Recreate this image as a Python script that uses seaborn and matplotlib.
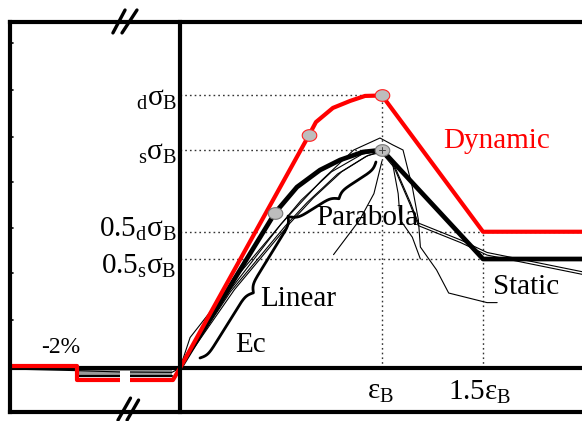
import numpy as np
import matplotlib
matplotlib.use("Agg")
import matplotlib.pyplot as plt
from matplotlib.path import Path
from matplotlib.patches import Rectangle
import seaborn as sns

# ---------------- data (x: strain / eps_B, y: stress / static sigma_B) ----------------
static_x = [0.0, 0.47, 0.579, 0.693, 0.792, 0.906, 1.0, 1.5, 2.05]
static_y = [0.0, 0.711, 0.830, 0.908, 0.954, 0.991, 1.0, 0.5, 0.5]

dyn_x = [-0.248, -0.035, 0.0, 0.639, 0.673, 0.757, 0.842, 0.916, 1.0, 1.5, 2.05]
dyn_y = [-0.055, -0.055, 0.0, 1.069, 1.128, 1.193, 1.225, 1.248, 1.25, 0.625, 0.625]

dyn_neg_x = [-0.832, -0.51, -0.51, -0.297]
dyn_neg_y = [0.008, 0.008, -0.055, -0.055]

static_pts_x = [0.47, 1.0]
static_pts_y = [0.711, 1.0]
dyn_pts_x = [0.639, 1.0]
dyn_pts_y = [1.069, 1.25]

# experimental (thin) curves
expA_x = [0.0, 0.25, 0.50, 0.60, 0.75, 0.90, 1.0]
expA_y = [0.0, 0.36, 0.66, 0.77, 0.90, 0.98, 1.0]
expB_x = [0.0, 0.25, 0.52, 0.63, 0.78, 0.92, 0.99]
expB_y = [0.0, 0.35, 0.65, 0.76, 0.89, 0.97, 0.995]
expB2_x = [0.0, 0.27, 0.54, 0.66, 0.80, 0.93, 1.0]
expB2_y = [0.0, 0.36, 0.66, 0.78, 0.90, 0.975, 0.99]
expC_x = [0.0, 0.05, 0.16, 0.30, 0.50, 0.70, 0.86, 0.99, 1.054, 1.104, 1.15, 1.18,
          1.19, 1.27, 1.33, 1.52, 1.57]
expC_y = [0.0, 0.14, 0.27, 0.44, 0.66, 0.86, 1.0, 1.055, 1.023, 1.0, 0.83, 0.68,
          0.555, 0.45, 0.344, 0.30, 0.30]
expD2_x = [1.0, 1.06, 1.14, 1.18, 1.39, 1.52, 2.0]
expD2_y = [0.99, 0.93, 0.76, 0.665, 0.587, 0.53, 0.44]
expD2b_y = [0.985, 0.92, 0.748, 0.653, 0.575, 0.518, 0.428]
expD3_x = [1.0, 0.96, 0.89, 0.76]
expD3_y = [0.95, 0.80, 0.68, 0.52]
expD4_x = [1.0, 1.05, 1.08, 1.09, 1.15, 1.19]
expD4_y = [1.0, 0.95, 0.80, 0.68, 0.60, 0.50]

neg_thin_x = [-0.832, -0.51, -0.30, -0.04, 0.0]
neg_thin_y = [-0.005, -0.012, -0.018, -0.02, 0.0]
neg_band_x = [-0.51, -0.04]
neg_band_top = [-0.006, -0.006]
neg_band_bot = [-0.035, -0.035]

# guide levels
h_levels = [1.25, 1.0, 0.625, 0.5]
h_ends = [1.0, 1.0, 2.05, 1.5]
v_levels = [1.0, 1.5]
v_tops = [1.25, 0.625]

y_labels = [r"${}_{\mathrm{d}}\sigma_{\mathrm{B}}$", r"${}_{\mathrm{s}}\sigma_{\mathrm{B}}$",
            r"$0.5_{\mathrm{d}}\sigma_{\mathrm{B}}$", r"$0.5_{\mathrm{s}}\sigma_{\mathrm{B}}$"]
y_label_pos = [1.234, 0.986, 0.635, 0.466]
x_labels = [r"$\varepsilon_{\mathrm{B}}$", r"$1.5\varepsilon_{\mathrm{B}}$"]
x_label_pos = [0.99, 1.485]
left_ticks = [1.491, 1.275, 1.060, 0.853, 0.642, 0.436, 0.220]

# ---------------- style ----------------
sns.set_theme(style="white")
plt.rcParams["font.family"] = ["Liberation Serif", "DejaVu Serif"]
plt.rcParams["text.color"] = "black"
plt.rcParams["mathtext.fontset"] = "custom"
plt.rcParams["mathtext.rm"] = "Liberation Serif"
plt.rcParams["mathtext.it"] = "Liberation Serif"
plt.rcParams["mathtext.bf"] = "Liberation Serif:bold"

fig = plt.figure(figsize=(5.82, 4.21), dpi=100)
ax = fig.add_axes([0, 0, 1, 1])
XMIN, XMAX, YMIN, YMAX = -0.891, 1.990, -0.243, 1.688
ax.set_xlim(XMIN, XMAX)
ax.set_ylim(YMIN, YMAX)
ax.axis("off")

FL, FR, FT, FB = -0.842, 2.1, 1.587, -0.202
frame_kw = dict(color="black", lw=3.0, solid_capstyle="projecting", zorder=6)
ax.plot([FL, FR], [FT, FT], **frame_kw)
ax.plot([FL, FR], [FB, FB], **frame_kw)
ax.plot([FL, FL], [FB, FT], **frame_kw)
ax.plot([0, 0], [FB, FT], **frame_kw)
ax.plot([FL, FR], [0, 0], color="black", lw=3.0, zorder=3)
for t in left_ticks:
    ax.plot([FL, FL + 0.014], [t, t], color="black", lw=1.2, zorder=6)

# break marks
for (x0, x1, y0, y1) in [(-0.332, -0.272, 1.537, 1.642), (-0.287, -0.213, 1.537, 1.642),
                         (-0.307, -0.245, -0.239, -0.138), (-0.262, -0.205, -0.239, -0.147)]:
    ax.plot([x0, x1], [y0, y1], color="black", lw=2.4, zorder=7, clip_on=False)

# dotted guides
dot_kw = dict(color="#333333", lw=1.0, linestyle=(0, (1.2, 2.2)), zorder=2)
for lev, end in zip(h_levels, h_ends):
    ax.plot([0, end], [lev, lev], **dot_kw)
for xv, top in zip(v_levels, v_tops):
    ax.plot([xv, xv], [0, top], **dot_kw)

# negative region
ax.fill_between(neg_band_x, neg_band_top, neg_band_bot, color="#9a9a9a", lw=0, zorder=2)
ax.plot(neg_band_x, neg_band_bot, color="black", lw=1.6, zorder=3)
sns.lineplot(x=neg_thin_x, y=neg_thin_y, sort=False, estimator=None, color="black", lw=0.8, ax=ax, zorder=3)

# thin experimental curves
for xs, ys in [(expA_x, expA_y), (expB_x, expB_y), (expB2_x, expB2_y), (expC_x, expC_y),
               (expD2_x, expD2_y), (expD2_x, expD2b_y), (expD3_x, expD3_y), (expD4_x, expD4_y)]:
    sns.lineplot(x=xs, y=ys, sort=False, estimator=None, color="black", lw=0.8, ax=ax, zorder=3)

# static and dynamic models
sns.lineplot(x=static_x, y=static_y, sort=False, estimator=None, color="black", lw=3.4, ax=ax, zorder=4)
sns.lineplot(x=dyn_x, y=dyn_y, sort=False, estimator=None, color="#ff0000", lw=3.0, ax=ax, zorder=5)
sns.lineplot(x=dyn_neg_x, y=dyn_neg_y, sort=False, estimator=None, color="#ff0000", lw=3.0, ax=ax, zorder=5)
ax.add_patch(Rectangle((-0.297, -0.09), 0.049, 0.075, color="white", zorder=5.5, lw=0))

# ellipse markers
th = np.linspace(0, 2 * np.pi, 60)
ell = Path(np.column_stack([1.25 * np.cos(th), np.sin(th)]))
ax.scatter(static_pts_x, static_pts_y, s=110, marker=ell, facecolor="#bdbdbd",
           edgecolor="#777777", linewidth=0.8, zorder=8)
ax.scatter(dyn_pts_x, dyn_pts_y, s=110, marker=ell, facecolor="#bdbdbd",
           edgecolor="#ff2020", linewidth=0.8, zorder=8)
ax.plot([0.985, 1.015], [1.0, 1.0], color="#444444", lw=0.7, zorder=9)
ax.plot([1.0, 1.0], [0.985, 1.015], color="#444444", lw=0.7, zorder=9)

# braces
def draw_brace(p1, p2, width_px=11, beta=0.3):
    fig.canvas.draw()
    tr = ax.transData
    a = tr.transform(p1)
    b = tr.transform(p2)
    d = b - a
    L = np.hypot(*d)
    u = d / L
    n = np.array([u[1], -u[0]])  # right-hand normal (towards labels)
    s = np.linspace(0, L / 2, 200)
    half = 1 / (1 + np.exp(-beta * (s - s[0]))) + 1 / (1 + np.exp(-beta * (s - s[-1])))
    v = np.concatenate([half, half[-2::-1]]) - 0.5
    ss = np.concatenate([s, L - s[-2::-1]])
    pts = a + np.outer(ss, u) + np.outer(v * width_px, n)
    dpts = tr.inverted().transform(pts)
    ax.plot(dpts[:, 0], dpts[:, 1], color="black", lw=2.0, zorder=6)

draw_brace((0.099, 0.046), (0.535, 0.697))
draw_brace((0.545, 0.693), (0.970, 0.945))

# labels
for lab, yp in zip(y_labels, y_label_pos):
    ax.text(-0.015, yp, lab, ha="right", va="center", fontsize=21, color="black", zorder=10)
for lab, xp in zip(x_labels, x_label_pos):
    ax.text(xp, -0.11, lab, ha="center", va="center", fontsize=21, color="black", zorder=10)

ax.text(0.351, 0.105, "Ec", ha="center", va="center", fontsize=21, color="black", zorder=10)
ax.text(0.584, 0.317, "Linear", ha="center", va="center", fontsize=21, color="black", zorder=10)
ax.text(0.926, 0.688, "Parabola", ha="center", va="center", fontsize=21, color="black", zorder=10)
ax.text(1.713, 0.372, "Static", ha="center", va="center", fontsize=21, color="black", zorder=10)
ax.text(1.569, 1.041, "Dynamic", ha="center", va="center", fontsize=21, color="#ff0000", zorder=10)
ax.text(-0.589, 0.096, "-2%", ha="center", va="center", fontsize=17, color="black", zorder=10)

fig.savefig("out.png", dpi=100)
